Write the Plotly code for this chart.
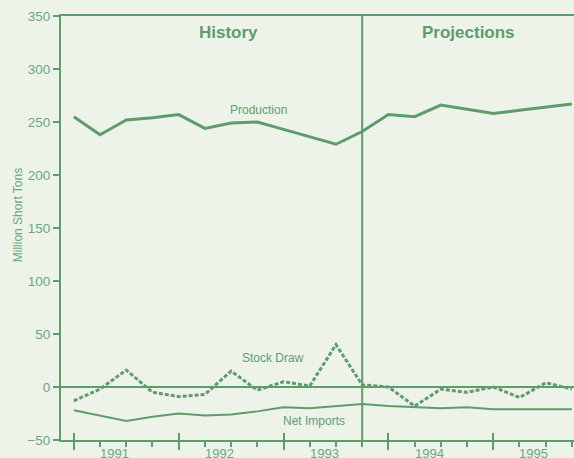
import plotly.graph_objects as go

# Quarterly index (0 = first quarter shown)
quarters = list(range(20))
production = [255, 238, 252, 254, 257, 244, 249, 250, 243, 236, 229, 241,
              257, 255, 266, 262, 258, 261, 264, 267]
stock_draw = [-13, -2, 16, -5, -9, -7, 15, -3, 5, 1, 40, 2,
              0, -18, -2, -5, 0, -10, 4, -2]
net_imports = [-22, -27, -32, -28, -25, -27, -26, -23, -19, -20, -18, -16,
               -18, -19, -20, -19, -21, -21, -21, -21]
year_labels = ["1991", "1992", "1993", "1994", "1995"]
year_label_pos = [1.55, 5.55, 9.55, 13.55, 17.55]
year_starts = [0, 4, 8, 12, 16]
history_end = 11
y_ticks = [-50, 0, 50, 100, 150, 200, 250, 300, 350]

GREEN = "#5f9c6c"
TEXT = "#6aa879"
BG = "#eef3ea"
FONT = "Liberation Sans, Arial, sans-serif"

fig = go.Figure()
fig.add_trace(go.Scatter(x=quarters, y=production, mode="lines",
                         line=dict(color=GREEN, width=3), hoverinfo="skip"))
fig.add_trace(go.Scatter(x=quarters, y=stock_draw, mode="lines",
                         line=dict(color=GREEN, width=3, dash="4px,2px"), hoverinfo="skip"))
fig.add_trace(go.Scatter(x=quarters, y=net_imports, mode="lines",
                         line=dict(color=GREEN, width=2), hoverinfo="skip"))
# invisible traces so the overlaid axes are drawn
fig.add_trace(go.Scatter(x=[0], y=[0], xaxis="x2", mode="markers",
                         marker=dict(opacity=0), hoverinfo="skip"))
fig.add_trace(go.Scatter(x=[0], y=[0], xaxis="x3", mode="markers",
                         marker=dict(opacity=0), hoverinfo="skip"))

xr = [-0.49, 19.08]
fig.update_layout(
    width=574, height=458,
    margin=dict(l=61, r=0, t=16, b=18, autoexpand=False),
    paper_bgcolor=BG, plot_bgcolor=BG,
    showlegend=False,
    font=dict(family=FONT, color=TEXT, size=13),
    xaxis=dict(range=xr, showgrid=False, zeroline=False, automargin=False,
               showline=True, linecolor=GREEN, linewidth=2,
               tickmode="array", tickvals=year_starts, ticktext=[""] * 5,
               ticks="outside", ticklen=8, tickwidth=2, tickcolor=GREEN,
               minor=dict(tickmode="linear", tick0=0, dtick=1, ticks="outside",
                          ticklen=5, tickwidth=1.5, tickcolor=GREEN, showgrid=False)),
    xaxis2=dict(range=xr, overlaying="x", anchor="y", side="bottom", automargin=False,
                showgrid=False, zeroline=False, showline=False,
                tickmode="array", tickvals=year_starts, ticktext=[""] * 5,
                ticks="inside", ticklen=7, tickwidth=2, tickcolor=GREEN),
    xaxis3=dict(range=xr, overlaying="x", anchor="y", side="top", automargin=False,
                showgrid=False, zeroline=False, showline=True,
                linecolor=GREEN, linewidth=2, ticks="", showticklabels=False),
    yaxis=dict(range=[-50, 350], showgrid=False, automargin=False,
               zeroline=True, zerolinecolor=GREEN, zerolinewidth=2,
               showline=True, linecolor=GREEN, linewidth=2,
               tickmode="array", tickvals=y_ticks,
               ticks="outside", ticklen=6, tickwidth=2, tickcolor=GREEN,
               tickfont=dict(size=13.5, color=TEXT)),
)

fig.add_shape(type="line", x0=history_end, x1=history_end, xref="x",
              y0=0, y1=1, yref="paper", line=dict(color=GREEN, width=2))

for lab, pos in zip(year_labels, year_label_pos):
    fig.add_annotation(x=pos, y=-50, xref="x", yref="y", text=lab,
                       showarrow=False, yanchor="top", yshift=-4,
                       font=dict(size=13, color=TEXT))

fig.add_annotation(x=5.9, y=334, text="<b>History</b>", showarrow=False,
                   font=dict(size=17, color=GREEN))
fig.add_annotation(x=15.05, y=334, text="<b>Projections</b>", showarrow=False,
                   font=dict(size=17, color=GREEN))
fig.add_annotation(x=7.05, y=261, text="Production", showarrow=False,
                   font=dict(size=12, color=GREEN))
fig.add_annotation(x=7.6, y=27, text="Stock Draw", showarrow=False,
                   font=dict(size=12, color=GREEN))
fig.add_annotation(x=9.15, y=-32, text="Net Imports", showarrow=False,
                   font=dict(size=12, color=GREEN))
fig.add_annotation(x=-43 / 513, y=162, xref="paper", yref="y",
                   xanchor="center", yanchor="middle",
                   text="Million Short Tons", textangle=-90, showarrow=False,
                   font=dict(size=12, color=TEXT))

fig.write_html("out.html",
               config={"displayModeBar": False},
               post_script="document.body.style.margin='0';"
                           "document.body.style.background='" + BG + "';")
